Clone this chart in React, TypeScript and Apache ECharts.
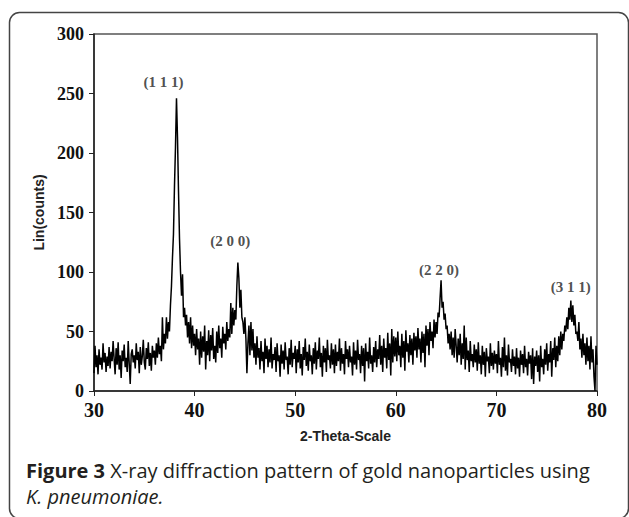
import React, { useEffect, useRef } from "react";
import * as echarts from "echarts";

// 2θ sampling: start 30°, step 0.1° (each block below = 2°, 20 readings)
const X_START = 30;
const X_STEP = 0.1;

const counts30 = [15, 38, 20, 30, 14, 35, 22, 28, 18, 40, 24, 32, 16, 29, 21, 37, 19, 33, 25, 42];
const counts32 = [27, 14, 36, 22, 41, 18, 30, 11, 34, 25, 39, 20, 28, 16, 42, 23, 6, 31, 35, 24];
const counts34 = [30, 19, 40, 26, 33, 15, 37, 22, 29, 43, 24, 18, 36, 27, 41, 21, 32, 17, 38, 28];
const counts36 = [34, 22, 40, 28, 45, 31, 38, 25, 62, 35, 48, 40, 62, 44, 58, 50, 72, 88, 112, 132];
const counts38 = [172, 205, 246, 213, 168, 128, 100, 80, 98, 62, 70, 55, 64, 45, 58, 40, 62, 36, 55, 38];
const counts40 = [48, 30, 52, 35, 44, 22, 50, 28, 46, 33, 55, 18, 42, 30, 51, 25, 47, 34, 53, 27];
const counts42 = [38, 24, 50, 32, 55, 36, 44, 28, 54, 40, 48, 35, 58, 42, 52, 45, 74, 48, 70, 55];
const counts44 = [68, 60, 88, 108, 95, 70, 85, 62, 58, 48, 62, 44, 15, 40, 55, 30, 58, 34, 52, 28];
const counts46 = [40, 22, 46, 28, 36, 18, 42, 25, 33, 15, 44, 27, 38, 20, 35, 24, 45, 19, 31, 26];
const counts48 = [37, 16, 40, 25, 30, 12, 39, 23, 34, 18, 41, 26, 29, 14, 36, 22, 43, 20, 32, 27];
const counts50 = [38, 15, 35, 24, 42, 19, 31, 13, 37, 26, 44, 21, 33, 17, 39, 25, 30, 14, 36, 23];
const counts52 = [41, 18, 34, 27, 45, 20, 32, 12, 38, 24, 36, 16, 43, 26, 30, 19, 40, 22, 35, 15];
const counts54 = [39, 21, 33, 25, 44, 17, 36, 23, 31, 14, 42, 27, 35, 20, 38, 24, 29, 13, 41, 22];
const counts56 = [34, 18, 43, 26, 31, 15, 38, 21, 36, 8, 40, 25, 33, 19, 45, 23, 30, 16, 37, 24];
const counts58 = [42, 20, 35, 27, 47, 22, 38, 16, 44, 28, 36, 19, 49, 26, 40, 13, 52, 24, 46, 29];
const counts60 = [45, 25, 50, 30, 38, 20, 48, 28, 42, 17, 51, 33, 40, 24, 47, 30, 44, 22, 49, 34];
const counts62 = [46, 28, 53, 35, 44, 24, 50, 32, 48, 20, 55, 38, 52, 30, 58, 42, 50, 36, 60, 45];
const counts64 = [58, 48, 66, 62, 78, 93, 70, 75, 60, 65, 52, 55, 40, 48, 35, 50, 30, 45, 28, 52];
const counts66 = [38, 24, 44, 30, 48, 22, 40, 27, 55, 18, 45, 26, 34, 16, 42, 25, 31, 20, 39, 24];
const counts68 = [35, 17, 41, 23, 30, 14, 38, 22, 33, 12, 36, 25, 29, 15, 40, 21, 32, 18, 34, 23];
const counts70 = [31, 15, 42, 22, 28, 12, 37, 20, 45, 17, 30, 13, 39, 24, 27, 16, 35, 21, 29, 14];
const counts72 = [36, 19, 28, 12, 34, 22, 31, 15, 38, 20, 27, 13, 33, 23, 30, 10, 36, 6, 29, 21];
const counts74 = [34, 16, 30, 8, 38, 20, 27, 14, 35, 22, 40, 17, 31, 24, 42, 12, 36, 26, 45, 20];
const counts76 = [38, 25, 46, 30, 50, 35, 48, 42, 55, 50, 62, 52, 70, 60, 76, 58, 72, 55, 64, 48];
const counts78 = [50, 42, 58, 35, 44, 28, 48, 30, 40, 22, 45, 25, 38, 18, 46, 24, 35, 12, 0, 38];
const counts80 = [22];

const peakLabels = ["(1 1 1)", "(2 0 0)", "(2 2 0)", "(3 1 1)"];
const peakLabelX = [36.9, 43.55, 64.3, 77.4];
const peakLabelY = [260, 126, 102, 87];

const xTicks = { min: 30, max: 80, interval: 10 };
const yTicks = { min: 0, max: 300, interval: 50 };

const allCounts = [
  ...counts30, ...counts32, ...counts34, ...counts36, ...counts38,
  ...counts40, ...counts42, ...counts44, ...counts46, ...counts48,
  ...counts50, ...counts52, ...counts54, ...counts56, ...counts58,
  ...counts60, ...counts62, ...counts64, ...counts66, ...counts68,
  ...counts70, ...counts72, ...counts74, ...counts76, ...counts78,
  ...counts80,
];

export default function App() {
  const ref = useRef<HTMLDivElement>(null);

  useEffect(() => {
    if (!ref.current) return;
    const chart = echarts.init(ref.current, null, { renderer: "svg" });
    const lineData = allCounts.map((v, i) => [
      Math.round((X_START + i * X_STEP) * 100) / 100,
      v,
    ]);
    const labelData = peakLabels.map((t, i) => ({
      name: t,
      value: [peakLabelX[i], peakLabelY[i]],
    }));

    chart.setOption({
      animation: false,
      backgroundColor: "#ffffff",
      grid: {
        left: 94,
        right: 32,
        top: 34,
        bottom: 126,
        show: true,
        borderColor: "#555",
        borderWidth: 1.5,
        backgroundColor: "transparent",
      },
      xAxis: {
        type: "value",
        min: xTicks.min,
        max: xTicks.max,
        interval: xTicks.interval,
        name: "2-Theta-Scale",
        nameLocation: "middle",
        nameGap: 38,
        nameTextStyle: {
          fontFamily: "Liberation Sans, Arial, sans-serif",
          fontWeight: "bold",
          fontSize: 14,
          color: "#222",
        },
        axisLine: { show: true, lineStyle: { color: "#222", width: 1.5 } },
        axisTick: { show: true, inside: false, length: 5, lineStyle: { color: "#222" } },
        splitLine: { show: false },
        axisLabel: {
          fontFamily: "Liberation Serif, Times New Roman, serif",
          fontWeight: "bold",
          fontSize: 20,
          color: "#111",
          margin: 9,
        },
      },
      yAxis: {
        type: "value",
        min: yTicks.min,
        max: yTicks.max,
        interval: yTicks.interval,
        name: "Lin(counts)",
        nameLocation: "middle",
        nameGap: 45,
        nameRotate: 90,
        nameTextStyle: {
          fontFamily: "Liberation Sans, Arial, sans-serif",
          fontWeight: "bold",
          fontSize: 14,
          color: "#222",
        },
        axisLine: { show: true, lineStyle: { color: "#222", width: 1.5 } },
        axisTick: { show: true, inside: false, length: 5, lineStyle: { color: "#222" } },
        splitLine: { show: false },
        axisLabel: {
          fontFamily: "Liberation Serif, Times New Roman, serif",
          fontWeight: "bold",
          fontSize: 18,
          color: "#111",
          margin: 10,
        },
      },
      series: [
        {
          type: "line",
          data: lineData,
          symbol: "none",
          showSymbol: false,
          lineStyle: { color: "#000", width: 1.5 },
          silent: true,
          z: 2,
        },
        {
          type: "scatter",
          data: labelData,
          symbolSize: 0,
          silent: true,
          label: {
            show: true,
            position: "inside",
            formatter: "{b}",
            fontFamily: "Liberation Serif, Times New Roman, serif",
            fontWeight: "bold",
            fontSize: 15,
            color: "#222",
          },
          z: 3,
        },
      ],
      graphic: [
        {
          type: "rect",
          shape: { x: 9.5, y: 12.5, width: 619, height: 506, r: 10 },
          style: { fill: "none", stroke: "#444", lineWidth: 1.5 },
          silent: true,
          z: -1,
        },
        {
          type: "text",
          x: 26,
          y: 470,
          style: {
            text: "{b|Figure 3} X-ray diffraction pattern of gold nanoparticles using",
            rich: {
              b: {
                fontFamily: "Open Sans, Noto Sans, sans-serif",
                fontWeight: "bold",
                fontSize: 20,
                fill: "#231f20",
              },
            },
            fontFamily: "Open Sans, Noto Sans, sans-serif",
            fontSize: 20,
            fill: "#231f20",
            verticalAlign: "middle",
          },
        },
        {
          type: "text",
          x: 26,
          y: 496,
          style: {
            text: "K. pneumoniae.",
            fontFamily: "Open Sans, Noto Sans, sans-serif",
            fontStyle: "italic",
            fontSize: 20,
            fill: "#231f20",
            verticalAlign: "middle",
          },
        },
      ],
    });

    return () => chart.dispose();
  }, []);

  return (
    <div
      ref={ref}
      style={{ position: "fixed", left: 0, top: 0, width: 629, height: 517 }}
    />
  );
}
